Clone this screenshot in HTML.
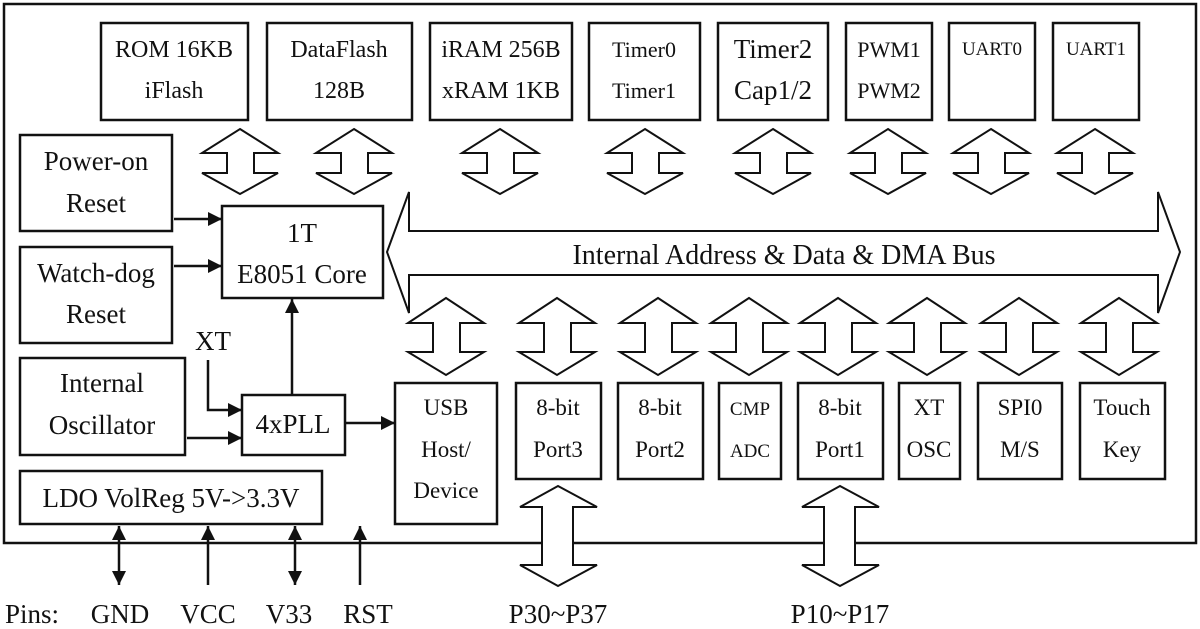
<!DOCTYPE html>
<html><head><meta charset="utf-8"><style>
html,body{margin:0;padding:0;background:#fff;}
svg{display:block;}
text{font-family:"Liberation Serif",serif;fill:#111;text-anchor:middle;}
</style></head><body>
<svg width="1200" height="629" viewBox="0 0 1200 629" xmlns="http://www.w3.org/2000/svg">
<defs>
<marker id="ahb" viewBox="0 0 10 10" refX="10" refY="5" markerWidth="14" markerHeight="14" markerUnits="userSpaceOnUse" orient="auto-start-reverse">
<path d="M0,0 L10,5 L0,10 z" fill="#111"/></marker>
</defs>
<g fill="none" stroke="#111" stroke-width="2.5">
<rect x="4" y="4" width="1192" height="539"/>
<rect x="101" y="23" width="147" height="97"/>
<rect x="267" y="23" width="145" height="97"/>
<rect x="430" y="23" width="142" height="97"/>
<rect x="589" y="23" width="111" height="97"/>
<rect x="718" y="23" width="110" height="97"/>
<rect x="846" y="23" width="86" height="97"/>
<rect x="949" y="23" width="86" height="97"/>
<rect x="1053" y="23" width="86" height="97"/>
<rect x="20" y="135" width="152" height="96"/>
<rect x="20" y="247" width="152" height="96"/>
<rect x="20" y="358" width="165" height="97"/>
<rect x="20" y="471" width="302" height="53"/>
<rect x="222" y="206" width="161" height="92"/>
<rect x="242" y="395" width="103" height="60"/>
<rect x="395" y="383" width="102" height="141"/>
<rect x="516" y="383" width="85" height="96"/>
<rect x="618" y="383" width="85" height="96"/>
<rect x="719" y="383" width="62" height="96"/>
<rect x="798" y="383" width="85" height="96"/>
<rect x="899" y="383" width="61" height="96"/>
<rect x="978" y="383" width="84" height="96"/>
<rect x="1080" y="383" width="85" height="96"/>
</g>
<g fill="#fff" stroke="#111" stroke-width="2">
<polygon points="387,252 409,192 409,231 1158,231 1158,192 1180,252 1158,313 1158,275 409,275 409,313"/>
<polygon points="240,129 278,153 254,153 254,173 278,173 240,194 202,173 227,173 227,153 202,153"/>
<polygon points="354,129 392,153 368,153 368,173 392,173 354,194 316,173 341,173 341,153 316,153"/>
<polygon points="500,129 538,153 514,153 514,173 538,173 500,194 462,173 487,173 487,153 462,153"/>
<polygon points="645,129 683,153 659,153 659,173 683,173 645,194 607,173 632,173 632,153 607,153"/>
<polygon points="773,129 811,153 787,153 787,173 811,173 773,194 735,173 760,173 760,153 735,153"/>
<polygon points="888,129 926,153 902,153 902,173 926,173 888,194 850,173 875,173 875,153 850,153"/>
<polygon points="991,129 1029,153 1005,153 1005,173 1029,173 991,194 953,173 978,173 978,153 953,153"/>
<polygon points="1095,129 1133,153 1109,153 1109,173 1133,173 1095,194 1057,173 1082,173 1082,153 1057,153"/>
<polygon points="446,298 484,323 460,323 460,352 484,352 446,375 408,352 433,352 433,323 408,323"/>
<polygon points="557,298 595,323 571,323 571,352 595,352 557,375 519,352 544,352 544,323 519,323"/>
<polygon points="658,298 696,323 672,323 672,352 696,352 658,375 620,352 645,352 645,323 620,323"/>
<polygon points="749,298 787,323 763,323 763,352 787,352 749,375 711,352 736,352 736,323 711,323"/>
<polygon points="838,298 876,323 852,323 852,352 876,352 838,375 800,352 825,352 825,323 800,323"/>
<polygon points="927,298 965,323 941,323 941,352 965,352 927,375 889,352 914,352 914,323 889,323"/>
<polygon points="1019,298 1057,323 1033,323 1033,352 1057,352 1019,375 981,352 1006,352 1006,323 981,323"/>
<polygon points="1119,298 1157,323 1133,323 1133,352 1157,352 1119,375 1081,352 1106,352 1106,323 1081,323"/>
<polygon points="558,486 597,507 573,507 573,565 597,565 558,586 520,565 542,565 542,507 520,507"/>
<polygon points="840,486 879,507 855,507 855,565 879,565 840,586 802,565 824,565 824,507 802,507"/>
</g>
<g stroke="#111" stroke-width="2.5" fill="none">
<line x1="174" y1="219" x2="222" y2="219" marker-end="url(#ahb)"/>
<line x1="174" y1="266" x2="222" y2="266" marker-end="url(#ahb)"/>
<line x1="292" y1="395" x2="292" y2="299" marker-end="url(#ahb)"/>
<polyline points="208,360 208,410 242,410" marker-end="url(#ahb)"/>
<line x1="187" y1="438" x2="242" y2="438" marker-end="url(#ahb)"/>
<line x1="345" y1="423" x2="395" y2="423" marker-end="url(#ahb)"/>
<line x1="119" y1="526" x2="119" y2="585" marker-start="url(#ahb)" marker-end="url(#ahb)"/>
<line x1="208" y1="585" x2="208" y2="526" marker-end="url(#ahb)"/>
<line x1="295" y1="526" x2="295" y2="585" marker-start="url(#ahb)" marker-end="url(#ahb)"/>
<line x1="360" y1="585" x2="360" y2="526" marker-end="url(#ahb)"/>
</g>
<g font-size="24">
<text x="174" y="57">ROM 16KB</text><text x="174" y="98">iFlash</text>
<text x="339" y="57">DataFlash</text><text x="339" y="98">128B</text>
<text x="501" y="57">iRAM 256B</text><text x="501" y="98">xRAM 1KB</text>
</g>
<g font-size="22">
<text x="644" y="57">Timer0</text><text x="644" y="98">Timer1</text>
<text x="889" y="57">PWM1</text><text x="889" y="98">PWM2</text>
</g>
<text x="773" y="58" font-size="27">Timer2</text><text x="773" y="99" font-size="27">Cap1/2</text>
<text x="992" y="55" font-size="19">UART0</text>
<text x="1096" y="55" font-size="19">UART1</text>
<g font-size="27">
<text x="96" y="170">Power-on</text><text x="96" y="212">Reset</text>
<text x="96" y="282">Watch-dog</text><text x="96" y="323">Reset</text>
<text x="102" y="392">Internal</text><text x="102" y="434">Oscillator</text>
<text x="171" y="507">LDO VolReg 5V-&gt;3.3V</text>
<text x="302" y="242">1T</text><text x="302" y="283">E8051 Core</text>
<text x="293" y="433">4xPLL</text>
<text x="213" y="350">XT</text>
</g>
<text x="784" y="264" font-size="28">Internal Address &amp; Data &amp; DMA Bus</text>
<g font-size="23">
<text x="446" y="415">USB</text><text x="446" y="457">Host/</text><text x="446" y="498">Device</text>
<text x="558" y="415">8-bit</text><text x="558" y="457">Port3</text>
<text x="660" y="415">8-bit</text><text x="660" y="457">Port2</text>
<text x="840" y="415">8-bit</text><text x="840" y="457">Port1</text>
<text x="929" y="415">XT</text><text x="929" y="457">OSC</text>
<text x="1020" y="415">SPI0</text><text x="1020" y="457">M/S</text>
<text x="1122" y="415">Touch</text><text x="1122" y="457">Key</text>
</g>
<text x="750" y="415" font-size="19">CMP</text><text x="750" y="457" font-size="19">ADC</text>
<g font-size="27">
<text x="5" y="623" style="text-anchor:start">Pins:</text>
<text x="120" y="623">GND</text>
<text x="208" y="623">VCC</text>
<text x="289" y="623">V33</text>
<text x="368" y="623">RST</text>
<text x="558" y="623">P30~P37</text>
<text x="840" y="623">P10~P17</text>
</g>
</svg>
</body></html>
